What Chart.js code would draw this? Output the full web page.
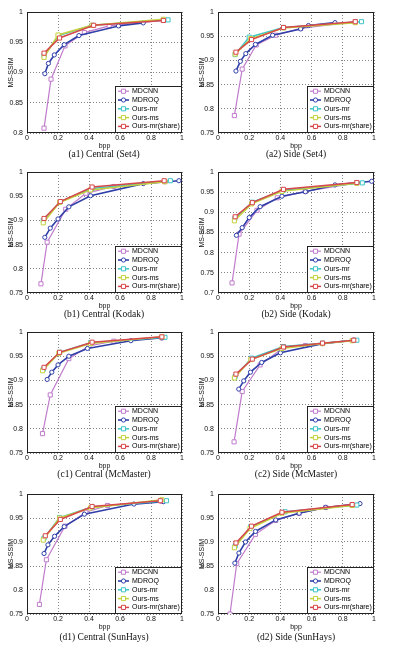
<!DOCTYPE html>
<html><head><meta charset="utf-8">
<script src="https://cdn.jsdelivr.net/npm/chart.js@4"></script>
<style>
html,body{margin:0;padding:0;background:#fff}
body{width:393px;height:648px;overflow:hidden;position:relative}
.p{position:absolute}
.cap{position:absolute;font-family:"Liberation Serif","Times New Roman",serif;font-size:9.5px;line-height:12px;color:#111;text-align:center;white-space:nowrap}
</style></head><body>
<script>
// ---------- data ----------
const seriesNames = ['MDCNN','MDROQ','Ours-mr','Ours-ms','Ours-mr(share)'];
const captions = ['(a1) Central (Set4)','(a2) Side (Set4)','(b1) Central (Kodak)','(b2) Side (Kodak)',
                  '(c1) Central (McMaster)','(c2) Side (McMaster)','(d1) Central (SunHays)','(d2) Side (SunHays)'];
const xTicks = [0,0.2,0.4,0.6,0.8,1];
const yTicks80 = [0.8,0.85,0.9,0.95,1];
const yTicks75 = [0.75,0.8,0.85,0.9,0.95,1];
const yTicks70 = [0.7,0.75,0.8,0.85,0.9,0.95,1];

// (a1) Central (Set4)
const a1_mdcnn = [[0.11,0.808],[0.155,0.889],[0.245,0.944],[0.37,0.966],[0.53,0.977],[0.88,0.986]];
const a1_mdroq = [[0.115,0.898],[0.138,0.915],[0.176,0.929],[0.24,0.946],[0.335,0.961],[0.59,0.977],[0.75,0.982]];
const a1_mr    = [[0.11,0.928],[0.205,0.961],[0.42,0.978],[0.91,0.987]];
const a1_ms    = [[0.11,0.925],[0.2,0.962],[0.42,0.978],[0.88,0.988]];
const a1_share = [[0.11,0.932],[0.21,0.957],[0.43,0.978],[0.88,0.986]];
// (a2) Side (Set4)
const a2_mdcnn = [[0.105,0.786],[0.155,0.882],[0.245,0.932],[0.37,0.952],[0.53,0.966],[0.88,0.98]];
const a2_mdroq = [[0.115,0.878],[0.143,0.898],[0.178,0.914],[0.24,0.933],[0.35,0.952],[0.53,0.965],[0.58,0.972],[0.75,0.978]];
const a2_mr    = [[0.11,0.912],[0.2,0.948],[0.42,0.968],[0.92,0.98]];
const a2_ms    = [[0.11,0.913],[0.21,0.945],[0.42,0.967],[0.88,0.978]];
const a2_share = [[0.115,0.917],[0.215,0.943],[0.42,0.968],[0.88,0.98]];
// (b1) Central (Kodak)
const b1_mdcnn = [[0.09,0.769],[0.13,0.855],[0.25,0.923],[0.38,0.956],[0.56,0.97],[0.89,0.98]];
const b1_mdroq = [[0.115,0.865],[0.15,0.884],[0.2,0.903],[0.27,0.928],[0.41,0.951],[0.75,0.976],[0.98,0.982]];
const b1_mr    = [[0.105,0.9],[0.215,0.939],[0.42,0.966],[0.925,0.982]];
const b1_ms    = [[0.105,0.895],[0.21,0.937],[0.41,0.963],[0.89,0.98]];
const b1_share = [[0.11,0.904],[0.215,0.939],[0.42,0.969],[0.885,0.982]];
// (b2) Side (Kodak)
const b2_mdcnn = [[0.09,0.725],[0.135,0.846],[0.25,0.905],[0.38,0.936],[0.56,0.952],[0.89,0.973]];
const b2_mdroq = [[0.118,0.843],[0.155,0.862],[0.2,0.887],[0.27,0.914],[0.41,0.94],[0.56,0.951],[0.75,0.968],[0.985,0.977]];
const b2_mr    = [[0.108,0.885],[0.22,0.925],[0.42,0.955],[0.925,0.973]];
const b2_ms    = [[0.105,0.879],[0.215,0.921],[0.41,0.952],[0.89,0.972]];
const b2_share = [[0.11,0.889],[0.22,0.924],[0.42,0.957],[0.89,0.974]];
// (c1) Central (McMaster)
const c1_mdcnn = [[0.1,0.79],[0.15,0.87],[0.27,0.945],[0.4,0.971],[0.56,0.981],[0.87,0.988]];
const c1_mdroq = [[0.13,0.902],[0.16,0.917],[0.2,0.932],[0.27,0.95],[0.39,0.966],[0.67,0.982],[0.87,0.988]];
const c1_mr    = [[0.105,0.923],[0.21,0.958],[0.41,0.978],[0.89,0.989]];
const c1_ms    = [[0.1,0.92],[0.205,0.956],[0.41,0.976],[0.87,0.99]];
const c1_share = [[0.11,0.927],[0.21,0.958],[0.42,0.979],[0.87,0.99]];
// (c2) Side (McMaster)
const c2_mdcnn = [[0.103,0.773],[0.155,0.877],[0.27,0.932],[0.42,0.968],[0.56,0.972],[0.87,0.983]];
const c2_mdroq = [[0.133,0.882],[0.165,0.899],[0.208,0.917],[0.28,0.937],[0.4,0.957],[0.67,0.976],[0.87,0.983]];
const c2_mr    = [[0.11,0.908],[0.215,0.946],[0.42,0.97],[0.67,0.977],[0.89,0.983]];
const c2_ms    = [[0.105,0.905],[0.21,0.943],[0.41,0.966],[0.67,0.976],[0.86,0.982]];
const c2_share = [[0.115,0.913],[0.22,0.944],[0.42,0.969],[0.67,0.977],[0.87,0.983]];
// (d1) Central (SunHays)
const d1_mdcnn = [[0.08,0.77],[0.125,0.863],[0.245,0.933],[0.38,0.962],[0.52,0.976],[0.87,0.985]];
const d1_mdroq = [[0.11,0.876],[0.135,0.894],[0.178,0.912],[0.24,0.932],[0.37,0.958],[0.69,0.979],[0.88,0.984]];
const d1_mr    = [[0.11,0.908],[0.21,0.951],[0.42,0.973],[0.9,0.986]];
const d1_ms    = [[0.105,0.904],[0.21,0.95],[0.41,0.971],[0.87,0.988]];
const d1_share = [[0.118,0.913],[0.215,0.947],[0.42,0.974],[0.86,0.986]];
// (d2) Side (SunHays)
const d2_mdcnn = [[0.077,0.75],[0.12,0.855],[0.24,0.916],[0.37,0.945],[0.52,0.96],[0.69,0.972],[0.86,0.977]];
const d2_mdroq = [[0.108,0.856],[0.134,0.877],[0.176,0.9],[0.24,0.922],[0.37,0.946],[0.52,0.96],[0.69,0.972],[0.91,0.98]];
const d2_mr    = [[0.11,0.892],[0.21,0.932],[0.43,0.963],[0.89,0.977]];
const d2_ms    = [[0.105,0.888],[0.205,0.928],[0.41,0.96],[0.86,0.976]];
const d2_share = [[0.115,0.898],[0.215,0.933],[0.41,0.962],[0.86,0.978]];

const panelSeries = [
  [a1_mdcnn,a1_mdroq,a1_mr,a1_ms,a1_share],
  [a2_mdcnn,a2_mdroq,a2_mr,a2_ms,a2_share],
  [b1_mdcnn,b1_mdroq,b1_mr,b1_ms,b1_share],
  [b2_mdcnn,b2_mdroq,b2_mr,b2_ms,b2_share],
  [c1_mdcnn,c1_mdroq,c1_mr,c1_ms,c1_share],
  [c2_mdcnn,c2_mdroq,c2_mr,c2_ms,c2_share],
  [d1_mdcnn,d1_mdroq,d1_mr,d1_ms,d1_share],
  [d2_mdcnn,d2_mdroq,d2_mr,d2_ms,d2_share]
];
const panelYTicks = [yTicks80,yTicks75,yTicks75,yTicks70,yTicks75,yTicks75,yTicks75,yTicks75];

// ---------- styles / layout ----------
const colors = ['#c07ccc','#2f3fa8','#3cc4c8','#c4d23c','#d8474a'];
const pStyles = ['rect','circle','rect','rect','rect'];
const pRadius = [2.9,2.1,2.9,2.9,2.9];
const lWidth = [1.2,1.6,1.5,1.5,1.5];
const cols = [{left:0,width:192,rpad:10,center:104},{left:191,width:202,rpad:19,center:296}];
const rows = [{top:12,h:121,cap:154},{top:172,h:121,cap:314},{top:332,h:121,cap:474},{top:494,h:120,cap:637}];

Chart.defaults.font.family = '"Liberation Sans", Arial, sans-serif';
Chart.defaults.font.size = 7;
Chart.defaults.color = '#111';

const frame = {
  id:'frame',
  beforeDatasetsDraw(chart){
    const {ctx, chartArea:a} = chart;
    ctx.save();
    ctx.strokeStyle = '#222'; ctx.lineWidth = 1;
    ctx.strokeRect(Math.round(a.left)+0.5, Math.round(a.top)+0.5, Math.round(a.right-a.left)-1, Math.round(a.bottom-a.top)-1);
    ctx.restore();
  }
};
const insideLegend = {
  id:'insideLegend',
  afterDatasetsDraw(chart){
    const {ctx, chartArea:a} = chart;
    const w = 67, h = 47;
    const x = Math.round(a.right) - w, y = Math.round(a.bottom) - h;
    ctx.save();
    ctx.fillStyle = '#fff'; ctx.fillRect(x, y, w, h);
    ctx.strokeStyle = '#222'; ctx.lineWidth = 1; ctx.strokeRect(x+0.5, y+0.5, w-1, h-1);
    ctx.font = '7px "Liberation Sans", Arial, sans-serif';
    ctx.textBaseline = 'middle';
    chart.data.datasets.forEach((ds, i) => {
      const cy = y + 5.2 + i * 8.8;
      ctx.strokeStyle = ds.borderColor; ctx.lineWidth = ds.borderWidth;
      ctx.beginPath(); ctx.moveTo(x+3, cy); ctx.lineTo(x+14, cy); ctx.stroke();
      ctx.fillStyle = '#fff'; ctx.lineWidth = 1;
      Chart.helpers.drawPoint(ctx, {pointStyle: ds.pointStyle, radius: ds.pointRadius, borderWidth: 1}, x+8.5, cy);
      ctx.fillStyle = '#000';
      ctx.fillText(ds.label, x+17, cy);
    });
    ctx.restore();
  }
};

const fmt = v => String(+Number(v).toFixed(2));

panelSeries.forEach((series, idx) => {
  const col = cols[idx % 2], row = rows[Math.floor(idx / 2)];
  const yt = panelYTicks[idx];
  const cTop = row.top - 10, cH = row.h + 10 + 17;
  const canvas = document.createElement('canvas');
  canvas.className = 'p';
  canvas.width = col.width; canvas.height = cH;
  canvas.style.left = col.left + 'px'; canvas.style.top = cTop + 'px';
  canvas.style.width = col.width + 'px'; canvas.style.height = cH + 'px';
  document.body.appendChild(canvas);

  const cap = document.createElement('div');
  cap.className = 'cap';
  cap.textContent = captions[idx];
  cap.style.left = (col.center - 80) + 'px'; cap.style.width = '160px';
  cap.style.top = (row.cap - 6) + 'px';
  document.body.appendChild(cap);

  const datasets = series.map((pts, i) => ({
    label: seriesNames[i],
    data: pts.map(p => ({x: p[0], y: p[1]})),
    borderColor: colors[i],
    backgroundColor: '#fff',
    pointBackgroundColor: '#fff',
    pointBorderColor: colors[i],
    pointBorderWidth: 1,
    borderWidth: lWidth[i],
    pointStyle: pStyles[i],
    pointRadius: pRadius[i],
    tension: 0,
    fill: false,
    order: 5 - i
  }));

  new Chart(canvas, {
    type: 'line',
    data: {datasets},
    options: {
      responsive: false, animation: false, devicePixelRatio: 1,
      layout: {padding: {top: 10, right: col.rpad, left: 0, bottom: 0}},
      plugins: {legend: {display: false}, tooltip: {enabled: false}},
      scales: {
        x: {
          type: 'linear', min: 0, max: 1,
          afterBuildTicks: s => { s.ticks = xTicks.map(v => ({value: v})); },
          afterFit: s => { s.height = 17; },
          ticks: {callback: fmt, padding: 1, maxRotation: 0, autoSkip: false},
          grid: {color: '#777', lineWidth: 0.9, drawTicks: false},
          border: {display: false, dash: [1, 2]},
          title: {display: true, text: 'bpp', padding: 0, font: {size: 7}}
        },
        y: {
          type: 'linear', min: yt[0], max: yt[yt.length - 1],
          afterBuildTicks: s => { s.ticks = yt.map(v => ({value: v})); },
          afterFit: s => { s.width = 27; },
          ticks: {callback: fmt, padding: 4, autoSkip: false},
          grid: {color: '#777', lineWidth: 0.9, drawTicks: false},
          border: {display: false, dash: [1, 2]},
          title: {display: true, text: 'MS-SSIM', padding: {top: 7, bottom: 0}, font: {size: 7}}
        }
      }
    },
    plugins: [frame, insideLegend]
  });
});
</script>
</body></html>
